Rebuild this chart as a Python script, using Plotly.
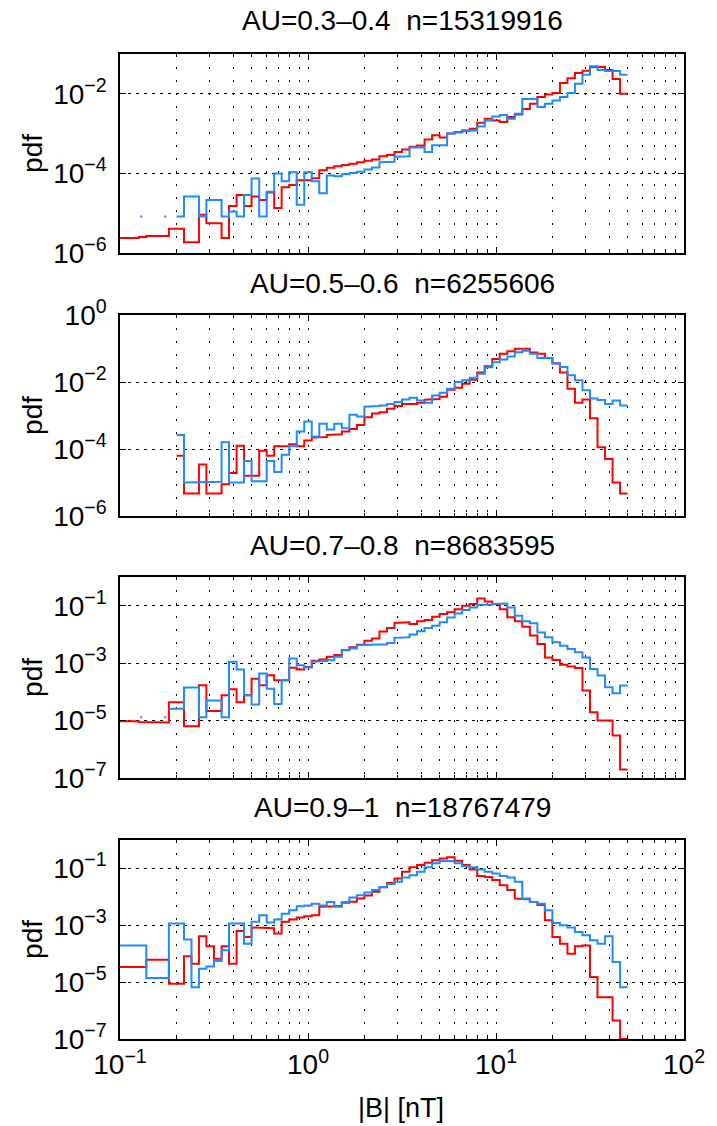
import plotly.graph_objects as go

# ---------------- data ----------------
# histogram bin edges |B| [nT] (log-spaced bins)
BIN_EDGES = [0.0955, 0.105, 0.115, 0.126, 0.138, 0.151, 0.166, 0.182, 0.200, 0.219,
             0.240, 0.263, 0.288, 0.316, 0.347, 0.380, 0.417, 0.457, 0.501, 0.550,
             0.603, 0.661, 0.724, 0.794, 0.871, 0.955, 1.047, 1.148, 1.259, 1.380,
             1.514, 1.660, 1.820, 1.995, 2.188, 2.399, 2.630, 2.884, 3.162, 3.467,
             3.802, 4.169, 4.571, 5.012, 5.495, 6.026, 6.607, 7.244, 7.943, 8.710,
             9.550, 10.47, 11.48, 12.59, 13.80, 15.14, 16.60, 18.20, 19.95, 21.88,
             23.99, 26.30, 28.84, 31.62, 34.67, 38.02, 41.69, 45.71, 50.12]

TITLES = ["AU=0.3\u20130.4  n=15319916", "AU=0.5\u20130.6  n=6255606",
          "AU=0.7\u20130.8  n=8683595", "AU=0.9\u20131  n=18767479"]

# log10(pdf) per bin (None = empty bin)
RED_1 = [-5.62, -5.62, -5.62, -5.60, -5.57, -5.57, -5.57, -5.39, -5.39, -5.73,
         -5.73, -5.04, -5.25, -5.25, -5.62, -4.82, -4.54, -4.82, -4.58, -4.67,
         -4.48, -4.87, -4.35, -4.29, -4.17, -4.17, -4.12, -3.92, -3.86, -3.82,
         -3.79, -3.76, -3.72, -3.68, -3.65, -3.57, -3.54, -3.46, -3.40, -3.33,
         -3.30, -3.15, -3.04, -3.10, -3.00, -2.96, -2.92, -2.88, -2.73, -2.63,
         -2.67, -2.71, -2.58, -2.52, -2.38, -2.25, -2.08, -2.02, -1.98, -1.73,
         -1.61, -1.48, -1.42, -1.33, -1.32, -1.40, -1.63, -2.00]
BLUE_1 = [None, None, None, None, None, None, None, None, -5.08, -4.58,
          -4.58, -5.08, -4.67, -4.67, -5.08, -4.96, -5.08, -4.54, -4.13, -5.08,
          -4.46, -4.00, -4.20, -3.97, -4.79, -3.97, -4.20, -4.50, -4.05, -4.07,
          -4.02, -3.99, -3.96, -3.90, -3.85, -3.72, -3.71, -3.58, -3.57, -3.35,
          -3.35, -3.46, -3.29, -3.29, -3.00, -2.97, -2.94, -2.92, -2.82, -2.67,
          -2.57, -2.53, -2.63, -2.50, -2.13, -2.13, -2.33, -2.25, -2.17, -2.08,
          -1.98, -1.75, -1.52, -1.31, -1.40, -1.43, -1.43, -1.52]
RED_2 = [None, None, None, None, None, None, None, None, -4.20, -5.33,
         -5.33, -4.46, -5.33, -5.33, -5.05, -4.72, -3.90, -4.80, -4.80, -4.05,
         -4.20, -3.92, -3.92, -3.86, -3.92, -3.75, -3.66, -3.64, -3.58, -3.56,
         -3.48, -3.40, -3.28, -3.05, -2.94, -2.90, -2.80, -2.72, -2.66, -2.66,
         -2.62, -2.53, -2.51, -2.44, -2.23, -2.17, -2.05, -1.93, -1.72, -1.53,
         -1.31, -1.16, -1.08, -1.01, -1.01, -1.12, -1.16, -1.28, -1.45, -1.72,
         -2.20, -2.62, -2.52, -3.08, -3.95, -4.30, -5.00, -5.33]
BLUE_2 = [None, None, None, None, None, None, None, None, -3.58, -5.00,
          -5.00, -5.00, -4.98, -4.98, -3.80, -5.00, -5.00, -4.36, -4.96, -4.96,
          -4.36, -4.69, -4.17, -3.92, -3.48, -3.18, -3.63, -3.25, -3.42, -3.25,
          -3.38, -2.98, -3.03, -2.74, -2.72, -2.70, -2.66, -2.60, -2.52, -2.47,
          -2.55, -2.62, -2.40, -2.32, -2.20, -2.00, -1.95, -1.87, -1.75, -1.56,
          -1.41, -1.33, -1.24, -1.11, -1.07, -1.16, -1.28, -1.28, -1.44, -1.55,
          -1.80, -1.95, -2.25, -2.49, -2.54, -2.66, -2.55, -2.70]
RED_3 = [-5.02, -5.02, -5.02, -5.05, -5.07, -5.07, -5.07, -4.36, -4.36, -5.20,
         -5.20, -3.77, -4.67, -4.67, -4.12, -3.91, -4.36, -4.12, -3.54, -3.77,
         -3.42, -3.60, -3.60, -3.16, -3.22, -3.13, -2.92, -2.87, -2.78, -2.72,
         -2.54, -2.45, -2.36, -2.22, -2.14, -1.90, -1.78, -1.60, -1.58, -1.64,
         -1.54, -1.50, -1.38, -1.29, -1.23, -1.12, -1.00, -0.94, -0.75, -0.85,
         -0.94, -1.12, -1.40, -1.54, -1.73, -2.04, -2.33, -2.80, -2.89, -3.06,
         -3.12, -3.17, -3.95, -4.71, -5.00, -5.00, -5.52, -6.70]
BLUE_3 = [None, None, None, None, None, None, None, -4.59, -4.59, -3.85,
          -3.85, -4.88, -4.30, -4.30, -4.88, -2.95, -3.22, -4.12, -4.44, -3.36,
          -3.89, -4.42, -3.60, -2.84, -3.07, -3.15, -2.95, -2.93, -2.90, -2.78,
          -2.55, -2.49, -2.38, -2.36, -2.35, -2.35, -2.30, -2.12, -2.10, -2.00,
          -1.89, -1.78, -1.70, -1.58, -1.41, -1.27, -1.15, -1.06, -0.97, -0.97,
          -0.94, -0.92, -1.06, -1.35, -1.54, -1.61, -1.93, -2.10, -2.27, -2.39,
          -2.51, -2.62, -2.80, -3.20, -3.43, -3.84, -4.05, -3.78]
RED_4 = [-4.47, -4.47, -4.47, -4.47, -4.21, -4.21, -4.21, -5.06, -5.06, -4.09,
         -4.35, -3.39, -3.74, -4.18, -3.74, -4.35, -3.20, -3.41, -3.08, -3.08,
         -3.10, -3.29, -2.88, -2.80, -2.73, -2.68, -2.65, -2.35, -2.33, -2.32,
         -2.21, -2.17, -2.06, -1.95, -1.82, -1.66, -1.51, -1.35, -1.12, -0.96,
         -0.88, -0.80, -0.71, -0.65, -0.61, -0.73, -0.88, -1.04, -1.27, -1.30,
         -1.41, -1.59, -1.76, -2.06, -2.08, -2.18, -2.29, -2.82, -3.41, -3.65,
         -4.00, -3.74, -3.71, -4.82, -5.53, -5.53, -6.35, -7.00]
BLUE_4 = [-3.71, -3.71, -3.71, -3.71, -4.85, -4.85, -4.85, -2.94, -2.94, -3.50,
          -5.18, -4.53, -4.45, -4.26, -3.88, -2.94, -2.94, -3.65, -2.88, -2.65,
          -2.90, -2.80, -2.59, -2.47, -2.33, -2.30, -2.24, -2.30, -2.18, -2.35,
          -2.18, -2.02, -1.94, -1.85, -1.76, -1.65, -1.55, -1.47, -1.32, -1.24,
          -1.12, -0.96, -0.82, -0.73, -0.75, -0.82, -0.92, -0.96, -1.04, -1.12,
          -1.18, -1.27, -1.32, -1.47, -2.06, -2.18, -2.24, -2.47, -2.92, -3.00,
          -3.08, -3.24, -3.35, -3.53, -3.65, -3.39, -4.29, -5.18]

# faint single-count floor of the blue curve (first bin, last bin, log10 pdf)
BLUE_FLOOR = {1: (0, 7, -5.08), 3: (0, 6, -4.88)}

Y_RANGES = [(-6, -1), (-6, 0), (-7, 0), (-7, 0)]
Y_TICKS = [[1e-6, 1e-4, 1e-2], [1e-6, 1e-4, 1e-2, 1e0],
           [1e-7, 1e-5, 1e-3, 1e-1], [1e-7, 1e-5, 1e-3, 1e-1]]
Y_TICKTEXT = [["10<sup>\u22126</sup>", "10<sup>\u22124</sup>", "10<sup>\u22122</sup>"],
              ["10<sup>\u22126</sup>", "10<sup>\u22124</sup>", "10<sup>\u22122</sup>", "10<sup>0</sup>"],
              ["10<sup>\u22127</sup>", "10<sup>\u22125</sup>", "10<sup>\u22123</sup>", "10<sup>\u22121</sup>"],
              ["10<sup>\u22127</sup>", "10<sup>\u22125</sup>", "10<sup>\u22123</sup>", "10<sup>\u22121</sup>"]]
X_TICKS = [0.1, 1, 10, 100]
X_TICKTEXT = ["10<sup>\u22121</sup>", "10<sup>0</sup>", "10<sup>1</sup>", "10<sup>2</sup>"]
X_MINOR = [0.2, 0.3, 0.4, 0.5, 0.6, 0.7, 0.8, 0.9,
           2, 3, 4, 5, 6, 7, 8, 9,
           20, 30, 40, 50, 60, 70, 80, 90]

RED_SERIES = [RED_1, RED_2, RED_3, RED_4]
BLUE_SERIES = [BLUE_1, BLUE_2, BLUE_3, BLUE_4]

# ---------------- styling ----------------
W, H = 717, 1126
ML, MR, MT, MB = 120, 24, 54, 87
PANEL_PX = [(54, 253), (315, 516), (577, 778), (840, 1039)]
TITLE_PX = [20, 283, 545, 807]
FONT = "Liberation Sans, Arial, Helvetica, sans-serif"
RED = "#ff0000"
BLUE = "#1e8cff"
plot_h = H - MT - MB


def py(px):
    return (H - MB - px) / plot_h


def px_x(px):
    return (px - ML) / (W - ML - MR)


def steps(vals):
    xs, ys = [], []
    for k, v in enumerate(vals):
        if v is None:
            xs.append(None)
            ys.append(None)
            continue
        xs += [BIN_EDGES[k], BIN_EDGES[k + 1]]
        ys += [10 ** v, 10 ** v]
    return xs, ys


fig = go.Figure()
for i in range(4):
    xa = "x" if i == 0 else f"x{i+1}"
    ya = "y" if i == 0 else f"y{i+1}"
    if (i + 1) in BLUE_FLOOR:
        a, b, v = BLUE_FLOOR[i + 1]
        fig.add_trace(go.Scatter(x=[BIN_EDGES[a], BIN_EDGES[b + 1]], y=[10 ** v, 10 ** v],
                                 mode="lines", xaxis=xa, yaxis=ya, showlegend=False,
                                 line=dict(color=BLUE, width=2, dash="2px,22px")))
    rx, ry = steps(RED_SERIES[i])
    bx, by = steps(BLUE_SERIES[i])
    fig.add_trace(go.Scatter(x=rx, y=ry, mode="lines", xaxis=xa, yaxis=ya,
                             showlegend=False, connectgaps=False,
                             line=dict(color=RED, width=2)))
    fig.add_trace(go.Scatter(x=bx, y=by, mode="lines", xaxis=xa, yaxis=ya,
                             showlegend=False, connectgaps=False,
                             line=dict(color=BLUE, width=2)))

layout = dict(width=W, height=H, margin=dict(l=ML, r=MR, t=MT, b=MB),
              paper_bgcolor="white", plot_bgcolor="white",
              font=dict(family=FONT, size=28, color="black"), showlegend=False)

annotations = []
for i in range(4):
    top, bot = PANEL_PX[i]
    dom = [py(bot), py(top)]
    xkey = "xaxis" if i == 0 else f"xaxis{i+1}"
    ykey = "yaxis" if i == 0 else f"yaxis{i+1}"
    ya = "y" if i == 0 else f"y{i+1}"
    xa = "x" if i == 0 else f"x{i+1}"
    layout[xkey] = dict(type="log", range=[-1, 2], domain=[0, 1], anchor=ya,
                        showline=True, linecolor="black", linewidth=1.5, mirror="allticks",
                        ticks="inside", ticklen=6, tickwidth=1, tickcolor="black",
                        tickmode="array", tickvals=X_TICKS, ticktext=X_TICKTEXT,
                        showticklabels=(i == 3), tickfont=dict(size=28, family=FONT),
                        showgrid=True, gridcolor="black", gridwidth=1, griddash="2px,11px",
                        zeroline=False,
                        minor=dict(tickvals=X_MINOR, ticks="inside", ticklen=3,
                                   tickcolor="black", showgrid=True, gridcolor="black",
                                   gridwidth=1, griddash="2px,11px"))
    if i > 0:
        layout[xkey]["matches"] = "x"
    layout[ykey] = dict(type="log", range=list(Y_RANGES[i]), domain=dom, anchor=xa,
                        showline=True, linecolor="black", linewidth=1.5, mirror="allticks",
                        ticks="inside", ticklen=6, tickwidth=1, tickcolor="black",
                        tickmode="array", tickvals=Y_TICKS[i], ticktext=Y_TICKTEXT[i],
                        tickfont=dict(size=28, family=FONT), ticklabelstandoff=6,
                        showgrid=True, gridcolor="black", gridwidth=1, griddash="3px,5px",
                        zeroline=False)
    annotations.append(dict(text=TITLES[i], xref="paper", yref="paper",
                            x=0.5, y=py(TITLE_PX[i]), xanchor="center", yanchor="middle",
                            showarrow=False, font=dict(size=28, family=FONT)))
    annotations.append(dict(text="pdf", xref="paper", yref="paper", textangle=-90,
                            x=px_x(31), y=py((top + bot) / 2), xanchor="center",
                            yanchor="middle", showarrow=False,
                            font=dict(size=28, family=FONT)))

annotations.append(dict(text="|B| [nT]", xref="paper", yref="paper", x=px_x(405),
                        y=py(1124), xanchor="center", yanchor="bottom", showarrow=False,
                        borderpad=0, font=dict(size=27, family=FONT)))
layout["annotations"] = annotations
fig.update_layout(**layout)
fig.write_html("out.html")
